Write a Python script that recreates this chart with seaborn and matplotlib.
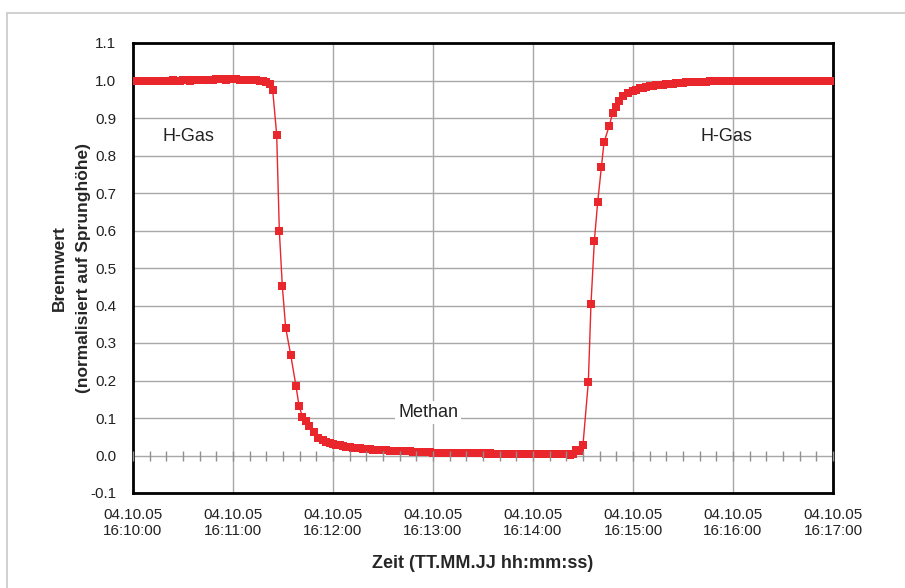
#Making imports
import numpy as np
import pandas as pd
import matplotlib
matplotlib.use('Agg')
import matplotlib.pyplot as plt
import matplotlib.dates as mdates
from matplotlib.patches import Rectangle
import seaborn as sns

##Data: Brennwert (normalised) vs. time, seconds after 04.10.05 16:10:00
start = pd.Timestamp('2005-10-04 16:10:00')

#H-Gas plateau
zeit_hgas_1 = [0, 2, 4, 6, 8, 10, 12, 14, 16, 18,
               20, 22, 24, 26, 28, 30, 32, 34, 36, 38,
               40, 42, 44, 46, 48, 50, 52, 54, 56, 58,
               60, 62, 64, 66, 68, 70, 72, 74, 76, 78,
               80, 82]
wert_hgas_1 = [1.000, 1.000, 0.999, 1.000, 1.000, 0.999, 1.000, 1.000, 1.000, 0.999,
               1.000, 1.000, 1.001, 1.000, 1.000, 1.001, 1.001, 1.000, 1.001, 1.001,
               1.001, 1.002, 1.002, 1.002, 1.002, 1.003, 1.003, 1.003, 1.002, 1.003,
               1.003, 1.003, 1.002, 1.002, 1.002, 1.002, 1.001, 1.001, 1.000, 0.998,
               0.995, 0.990]

#Switch H-Gas -> Methan
zeit_abfall = [83.8, 86.2, 87.8, 89.6, 91.6, 94.6, 97.8, 99.6, 101.6, 103.8, 105.6, 108.8, 111.2]
wert_abfall = [0.975, 0.856, 0.599, 0.451, 0.341, 0.269, 0.185, 0.133, 0.104, 0.093, 0.080, 0.062, 0.046]

#Methan plateau
zeit_methan = [114, 116, 118, 120, 122, 124, 126, 128, 130, 132,
               134, 136, 138, 140, 142, 144, 146, 148, 150, 152,
               154, 156, 158, 160, 162, 164, 166, 168, 170, 172,
               174, 176, 178, 180, 182, 184, 186, 188, 190, 192,
               194, 196, 198, 200, 202, 204, 206, 208, 210, 212,
               214, 216, 218, 220, 222, 224, 226, 228, 230, 232,
               234, 236, 238, 240, 242, 244, 246, 248, 250, 252,
               254, 256, 258, 260, 262, 264, 266, 268, 270]
wert_methan = [0.041, 0.037, 0.034, 0.031, 0.029, 0.027, 0.025, 0.024, 0.022, 0.021,
               0.020, 0.019, 0.018, 0.017, 0.017, 0.016, 0.015, 0.015, 0.014, 0.014,
               0.013, 0.013, 0.012, 0.012, 0.011, 0.011, 0.011, 0.010, 0.010, 0.010,
               0.009, 0.009, 0.009, 0.008, 0.008, 0.008, 0.008, 0.007, 0.007, 0.007,
               0.007, 0.007, 0.006, 0.006, 0.006, 0.006, 0.006, 0.006, 0.006, 0.005,
               0.006, 0.005, 0.005, 0.005, 0.005, 0.005, 0.005, 0.005, 0.005, 0.005,
               0.005, 0.005, 0.005, 0.005, 0.005, 0.004, 0.005, 0.005, 0.004, 0.004,
               0.004, 0.004, 0.004, 0.003, 0.002, 0.003, 0.015, 0.013, 0.029]

#Switch Methan -> H-Gas
zeit_anstieg = [273.2, 274.8, 276.8, 278.8, 281.0, 282.6, 285.8, 287.8, 289.8, 291.8, 294.2, 297.2]
wert_anstieg = [0.196, 0.405, 0.572, 0.675, 0.769, 0.835, 0.880, 0.914, 0.929, 0.945, 0.958, 0.966]

#H-Gas plateau again
zeit_hgas_2 = [300, 302, 304, 306, 308, 310, 312, 314, 316, 318,
               320, 322, 324, 326, 328, 330, 332, 334, 336, 338,
               340, 342, 344, 346, 348, 350, 352, 354, 356, 358,
               360, 362, 364, 366, 368, 370, 372, 374, 376, 378,
               380, 382, 384, 386, 388, 390, 392, 394, 396, 398,
               400, 402, 404, 406, 408, 410, 412, 414, 416, 418,
               420]
wert_hgas_2 = [0.972, 0.976, 0.979, 0.981, 0.983, 0.985, 0.986, 0.987, 0.988, 0.989,
               0.990, 0.991, 0.992, 0.993, 0.994, 0.994, 0.995, 0.995, 0.996, 0.996,
               0.997, 0.997, 0.997, 0.998, 0.998, 0.998, 0.998, 0.999, 0.998, 0.999,
               0.998, 0.999, 0.999, 0.998, 0.999, 0.999, 0.999, 0.999, 1.000, 0.999,
               0.999, 1.000, 1.000, 0.999, 1.000, 1.000, 1.000, 0.999, 1.000, 1.000,
               1.000, 1.000, 1.000, 0.999, 1.000, 1.000, 1.000, 1.000, 1.000, 1.000,
               1.000]

y_ticks = [-0.1, 0.0, 0.1, 0.2, 0.3, 0.4, 0.5, 0.6, 0.7, 0.8, 0.9, 1.0, 1.1]

zeit_s = zeit_hgas_1 + zeit_abfall + zeit_methan + zeit_anstieg + zeit_hgas_2
brennwert = wert_hgas_1 + wert_abfall + wert_methan + wert_anstieg + wert_hgas_2

df = pd.DataFrame({'Zeit': start + pd.to_timedelta(zeit_s, unit='s'),
                   'Brennwert': brennwert})

#Style and fonts
sns.set_style('white')
plt.rcParams['font.family'] = ['Liberation Sans', 'DejaVu Sans']

fig = plt.figure(figsize=(9.05, 5.88), dpi=100)

#light grey frame around the whole chart
fig.patches.append(Rectangle((7/905, -0.1), 1.2, 1 - 13/588 + 0.1, transform=fig.transFigure,
                             fill=False, edgecolor='#c8c8c8', lw=1.2))

ax = fig.add_axes([133/905, 1 - 493/588, 700/905, 450/588])

#the measured curve
sns.lineplot(data=df, x='Zeit', y='Brennwert', ax=ax, color='#e8262b', lw=1.0,
             marker='s', markersize=6, markeredgewidth=0, zorder=5)

#Axes limits and ticks
ax.set_xlim(start, start + pd.Timedelta(minutes=7))
ax.set_ylim(-0.1, 1.1)
ax.xaxis.set_major_locator(mdates.MinuteLocator())
ax.xaxis.set_major_formatter(mdates.DateFormatter('%d.%m.%y\n%H:%M:%S'))
ax.set_yticks(y_ticks)
ax.set_yticklabels([f'{v:.1f}' for v in y_ticks])
ax.tick_params(axis='y', direction='out', length=7, width=1, color='#808080',
               labelsize=11, pad=5, labelcolor='#222222')
ax.tick_params(axis='x', length=0, labelsize=11, pad=11, labelcolor='#222222')

#Grid and frame
ax.grid(True, color='#a8a8a8', lw=1)
for s in ax.spines.values():
    s.set_color('black')
    s.set_linewidth(2)

#small ticks on the zero line every 10 s
ax2 = ax.twiny()
ax2.set_xlim(ax.get_xlim())
for s in ax2.spines.values():
    s.set_visible(False)
ax2.xaxis.set_ticks_position('bottom')
ax2.spines['bottom'].set_position(('data', 0))
ax2.xaxis.set_major_locator(mdates.SecondLocator(bysecond=range(0, 60, 10)))
ax2.tick_params(axis='x', direction='inout', length=7, width=1, color='#909090',
                labelbottom=False, labeltop=False)

#Labels
ax.set_xlabel('Zeit (TT.MM.JJ hh:mm:ss)', fontsize=13, fontweight='bold', labelpad=12)
ax.set_ylabel('Brennwert\n(normalisiert auf Sprunghöhe)', fontsize=12.5, fontweight='bold',
              linespacing=1.75)
ax.yaxis.set_label_coords(-0.06, 0.5)

#Annotations
ax.text(start + pd.Timedelta(seconds=33), 0.85, 'H-Gas', fontsize=13, ha='center', va='center',
        color='#222222')
ax.text(start + pd.Timedelta(seconds=356), 0.85, 'H-Gas', fontsize=13, ha='center', va='center',
        color='#222222')
ax.text(start + pd.Timedelta(seconds=177), 0.115, 'Methan', fontsize=13, ha='center', va='center',
        color='#222222', zorder=6, bbox=dict(facecolor='white', edgecolor='none', pad=2))

fig.savefig('out.png', dpi=100)
